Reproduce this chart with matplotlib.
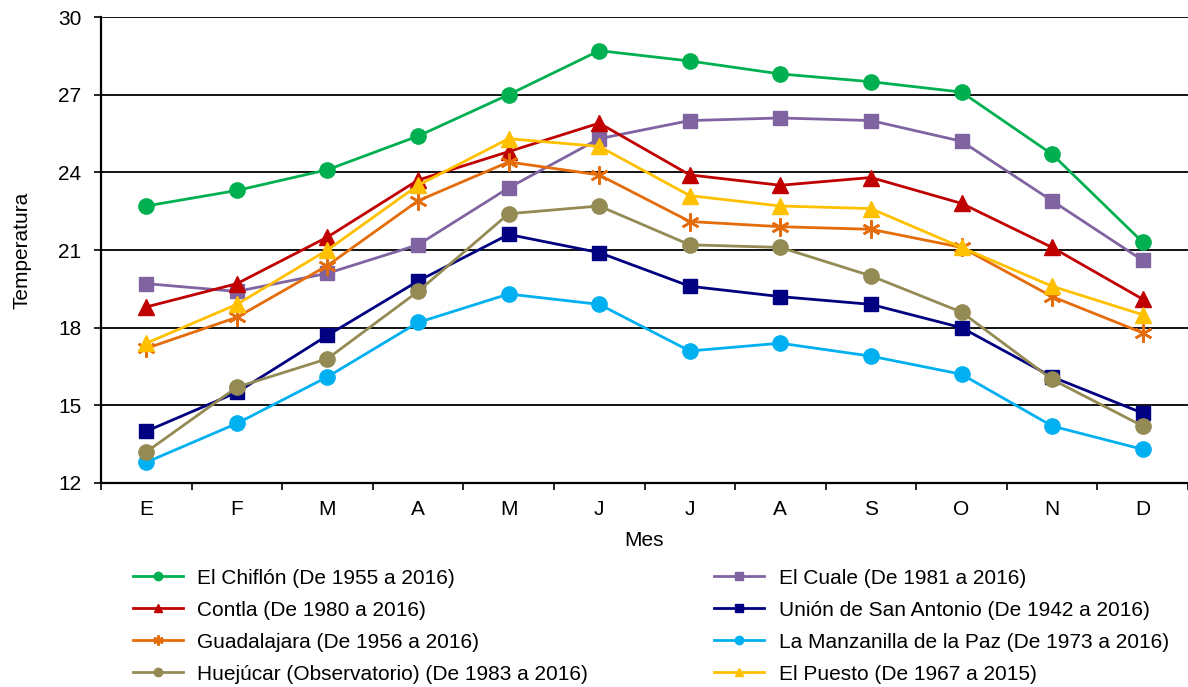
import matplotlib

matplotlib.use("Agg")

import matplotlib.pyplot as plt
import numpy as np

plt.rcParams["font.family"] = ["Liberation Sans", "DejaVu Sans"]

months = ["E", "F", "M", "A", "M", "J", "J", "A", "S", "O", "N", "D"]

chiflon = [22.7, 23.3, 24.1, 25.4, 27.0, 28.7, 28.3, 27.8, 27.5, 27.1, 24.7, 21.3]
cuale = [19.7, 19.4, 20.1, 21.2, 23.4, 25.3, 26.0, 26.1, 26.0, 25.2, 22.9, 20.6]
contla = [18.8, 19.7, 21.5, 23.7, 24.8, 25.9, 23.9, 23.5, 23.8, 22.8, 21.1, 19.1]
union = [14.0, 15.5, 17.7, 19.8, 21.6, 20.9, 19.6, 19.2, 18.9, 18.0, 16.1, 14.7]
guadalajara = [17.2, 18.4, 20.4, 22.9, 24.4, 23.9, 22.1, 21.9, 21.8, 21.1, 19.2, 17.8]
manzanilla = [12.8, 14.3, 16.1, 18.2, 19.3, 18.9, 17.1, 17.4, 16.9, 16.2, 14.2, 13.3]
huejucar = [13.2, 15.7, 16.8, 19.4, 22.4, 22.7, 21.2, 21.1, 20.0, 18.6, 16.0, 14.2]
puesto = [17.4, 18.9, 21.0, 23.5, 25.3, 25.0, 23.1, 22.7, 22.6, 21.1, 19.6, 18.5]

# (label, values, color, marker, size) in legend order (row-wise, two columns)
series = [
    ("El Chiflón (De 1955 a 2016)", chiflon, "#00B050", "o", 11),
    ("El Cuale (De 1981 a 2016)", cuale, "#8064A2", "s", 10),
    ("Contla (De 1980 a 2016)", contla, "#C00000", "^", 11),
    ("Unión de San Antonio (De 1942 a 2016)", union, "#000080", "s", 10),
    ("Guadalajara (De 1956 a 2016)", guadalajara, "#E46C0A", "*", 13),
    ("La Manzanilla de la Paz (De 1973 a 2016)", manzanilla, "#00B0F0", "o", 11),
    ("Huejúcar (Observatorio) (De 1983 a 2016)", huejucar, "#948A54", "o", 11),
    ("El Puesto (De 1967 a 2015)", puesto, "#FFC000", "^", 11),
]

FS = 15

fig = plt.figure(figsize=(11.88, 6.87), dpi=100)
ax = fig.add_axes([101 / 1188, 1 - 483 / 687, 1087 / 1188, 466 / 687])

x = np.arange(len(months))
handles = {}
for label, vals, color, marker, ms in series:
    if marker == "*":
        # asterisk marker: six-armed star of line segments
        (h,) = ax.plot(x, vals, color=color, lw=2, marker=(6, 2, 0), ms=ms,
                       mew=1.8, label=label, zorder=3)
    else:
        (h,) = ax.plot(x, vals, color=color, lw=2, marker=marker, ms=ms,
                       mec=color, label=label, zorder=3)
    handles[label] = h

ax.set_xlim(-0.5, 11.5)
ax.set_ylim(12, 30)
ax.set_yticks(np.arange(12, 31, 3))
ax.set_xticks(x)
ax.set_xticklabels(months)
ax.set_xticks(np.arange(-0.5, 12, 1), minor=True)
ax.tick_params(axis="x", which="major", length=0, pad=12, labelsize=FS)
ax.tick_params(axis="x", which="minor", length=5, width=1.2, direction="out")
ax.tick_params(axis="y", length=5, width=1.2, pad=9, labelsize=FS)
ax.grid(axis="y", color="black", lw=1.3, zorder=0)

for side in ["top", "right"]:
    ax.spines[side].set_visible(False)
for side in ["left", "bottom"]:
    ax.spines[side].set_linewidth(1.6)

ax.set_xlabel("Mes", fontsize=FS, labelpad=9)
ax.set_ylabel("Temperatura", fontsize=FS, labelpad=19)

# legend: two columns, filled column-wise from the row-wise series order
col1 = [s[0] for s in series[0::2]]
col2 = [s[0] for s in series[1::2]]
order = col1 + col2
fig.legend([handles[l] for l in order], order, loc="upper left",
           bbox_to_anchor=(114 / 1188, 1 - 550 / 687), ncol=2, frameon=False,
           fontsize=FS, markerscale=0.55, handlelength=2.4, handletextpad=0.7,
           columnspacing=6.05, labelspacing=0.62)

fig.savefig("out.png", dpi=100)
